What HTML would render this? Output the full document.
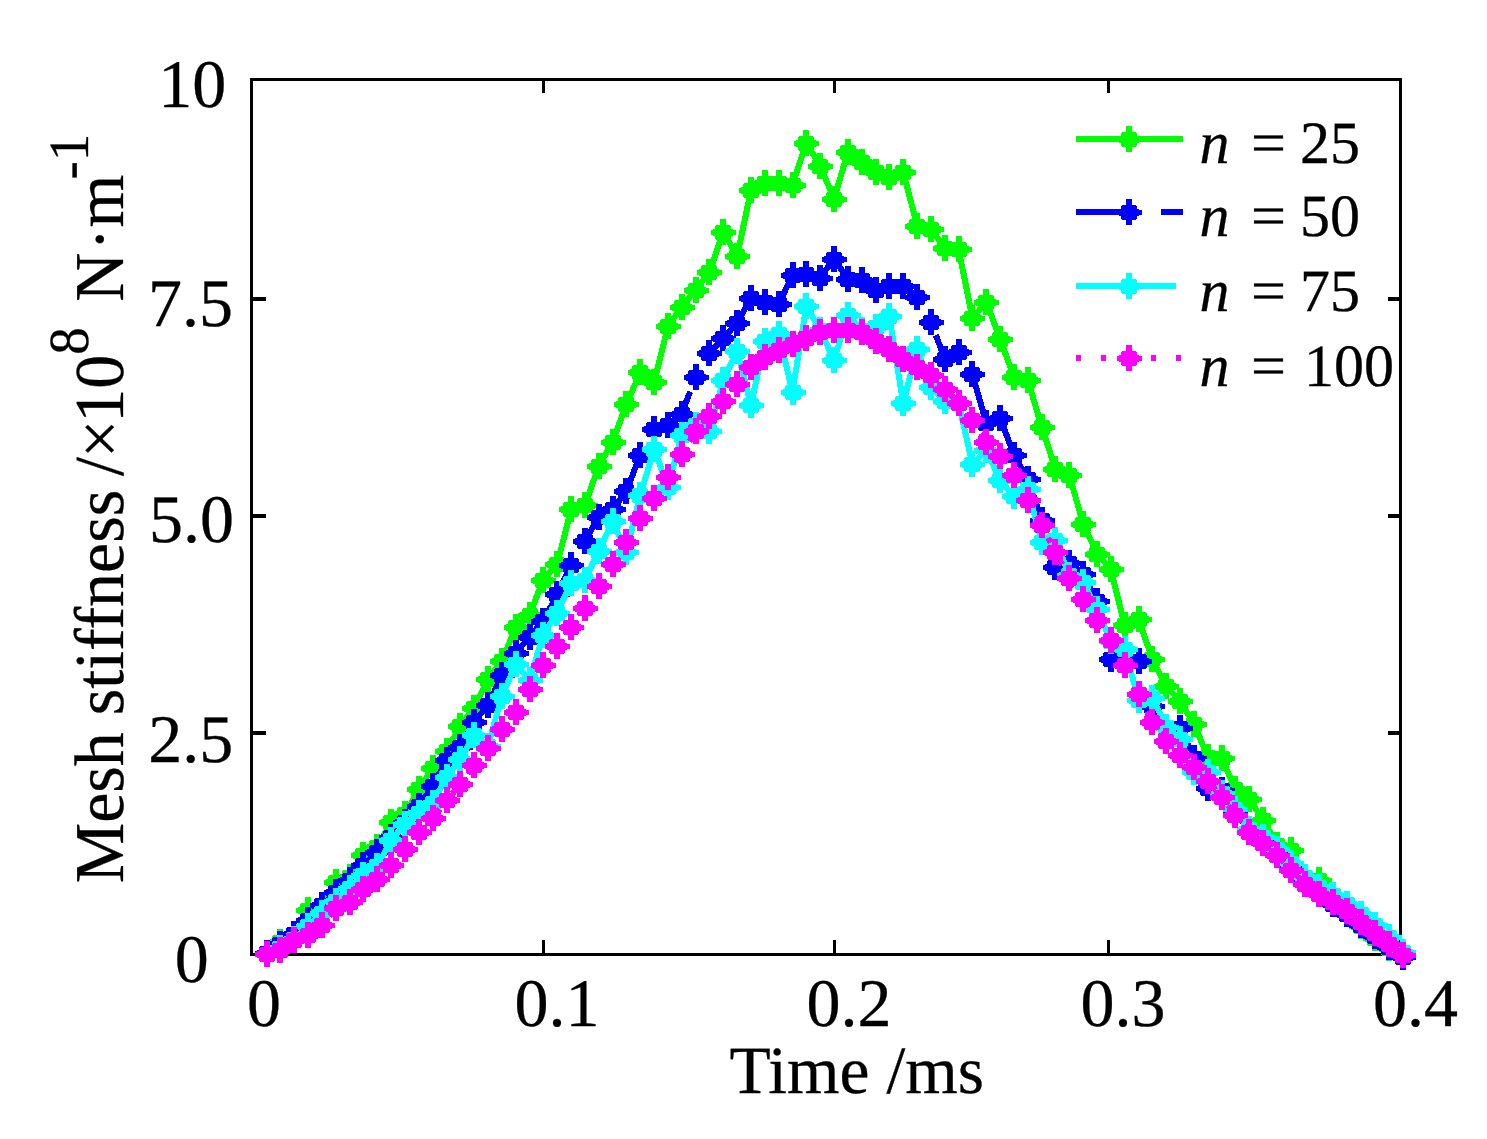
<!DOCTYPE html>
<html lang="en"><head><meta charset="utf-8"><title>Mesh stiffness</title>
<style>html,body{margin:0;padding:0;background:#fff}body{width:1487px;height:1139px;overflow:hidden}</style></head>
<body>
<svg width="1487" height="1139" viewBox="0 0 1487 1139" style="display:block">
<rect width="1487" height="1139" fill="#fff"/>
<g shape-rendering="crispEdges" fill="#000">
<path d="M250 78h1152v878h-1152z M253 81v872h1146v-872z" fill-rule="evenodd"/>
<rect x="542" y="81" width="3" height="12"/>
<rect x="542" y="940" width="3" height="13"/>
<rect x="833" y="81" width="3" height="12"/>
<rect x="833" y="940" width="3" height="13"/>
<rect x="1107" y="81" width="3" height="12"/>
<rect x="1107" y="940" width="3" height="13"/>
<rect x="253" y="297" width="13" height="4"/>
<rect x="1388" y="297" width="11" height="4"/>
<rect x="253" y="514" width="13" height="4"/>
<rect x="1388" y="514" width="11" height="4"/>
<rect x="253" y="731" width="13" height="4"/>
<rect x="1388" y="731" width="11" height="4"/>
</g>
<g shape-rendering="crispEdges">
<polyline points="266.6,954.0 280.4,941.5 294.3,937.0 308.1,910.0 322.0,907.0 335.8,882.0 349.6,877.0 363.5,855.0 377.3,847.0 391.2,822.0 405.0,814.5 418.8,789.4 432.7,768.0 446.5,751.0 460.4,725.6 474.2,707.5 488.0,679.2 501.9,661.0 515.7,626.8 529.6,614.6 543.4,579.5 557.2,564.0 571.1,509.3 584.9,505.3 598.8,465.9 612.6,441.7 626.4,404.4 640.3,372.1 654.1,382.3 668.0,326.0 681.8,307.0 695.6,289.6 709.5,272.2 723.3,231.8 737.2,256.0 751.0,190.0 764.8,183.4 778.7,183.4 792.5,184.7 806.4,143.0 820.2,166.0 834.0,199.0 847.9,152.0 861.7,162.0 875.6,172.0 889.4,177.0 903.2,172.0 917.1,225.5 930.9,229.0 944.8,248.0 958.6,249.3 972.4,318.0 986.3,301.7 1000.1,339.2 1014.0,377.2 1027.8,379.6 1041.6,426.8 1055.5,469.2 1069.3,475.3 1083.2,523.8 1097.0,553.5 1110.8,569.4 1124.7,624.9 1138.5,618.9 1152.4,659.2 1166.2,686.4 1180.0,700.8 1193.9,723.5 1207.7,757.0 1221.6,758.5 1235.4,788.9 1249.4,799.0 1263.4,820.5 1277.4,845.0 1291.4,850.0 1305.4,879.0 1319.4,880.0 1333.4,900.0 1347.5,903.9 1361.5,926.0 1375.5,938.0 1389.5,948.5 1403.5,956.5" fill="none" stroke="#00ff00" stroke-width="6" stroke-linejoin="round"/>
<path d="M264 941h6v26h-6zM255 952h25v5h-25zM257 951h20v7h-20zM259 948h16v13h-16zM260 947h14v15h-14zM277 929h6v26h-6zM268 940h25v5h-25zM270 939h20v7h-20zM272 936h16v13h-16zM273 935h14v15h-14zM291 924h6v26h-6zM282 935h25v5h-25zM284 934h20v7h-20zM286 931h16v13h-16zM287 930h14v15h-14zM305 897h6v26h-6zM296 908h25v5h-25zM298 907h20v7h-20zM300 904h16v13h-16zM301 903h14v15h-14zM319 894h6v26h-6zM310 905h25v5h-25zM312 904h20v7h-20zM314 901h16v13h-16zM315 900h14v15h-14zM333 869h6v26h-6zM324 880h25v5h-25zM326 879h20v7h-20zM328 876h16v13h-16zM329 875h14v15h-14zM347 864h6v26h-6zM338 875h25v5h-25zM340 874h20v7h-20zM342 871h16v13h-16zM343 870h14v15h-14zM360 842h6v26h-6zM351 853h25v5h-25zM353 852h20v7h-20zM355 849h16v13h-16zM356 848h14v15h-14zM374 834h6v26h-6zM365 845h25v5h-25zM367 844h20v7h-20zM369 841h16v13h-16zM370 840h14v15h-14zM388 809h6v26h-6zM379 820h25v5h-25zM381 819h20v7h-20zM383 816h16v13h-16zM384 815h14v15h-14zM402 801h6v26h-6zM393 812h25v5h-25zM395 811h20v7h-20zM397 808h16v13h-16zM398 807h14v15h-14zM416 776h6v26h-6zM407 787h25v5h-25zM409 786h20v7h-20zM411 783h16v13h-16zM412 782h14v15h-14zM430 755h6v26h-6zM421 766h25v5h-25zM423 765h20v7h-20zM425 762h16v13h-16zM426 761h14v15h-14zM444 738h6v26h-6zM435 749h25v5h-25zM437 748h20v7h-20zM439 745h16v13h-16zM440 744h14v15h-14zM457 713h6v26h-6zM448 724h25v5h-25zM450 723h20v7h-20zM452 720h16v13h-16zM453 719h14v15h-14zM471 695h6v26h-6zM462 706h25v5h-25zM464 705h20v7h-20zM466 702h16v13h-16zM467 701h14v15h-14zM485 666h6v26h-6zM476 677h25v5h-25zM478 676h20v7h-20zM480 673h16v13h-16zM481 672h14v15h-14zM499 648h6v26h-6zM490 659h25v5h-25zM492 658h20v7h-20zM494 655h16v13h-16zM495 654h14v15h-14zM513 614h6v26h-6zM504 625h25v5h-25zM506 624h20v7h-20zM508 621h16v13h-16zM509 620h14v15h-14zM527 602h6v26h-6zM518 613h25v5h-25zM520 612h20v7h-20zM522 609h16v13h-16zM523 608h14v15h-14zM540 567h6v26h-6zM531 578h25v5h-25zM533 577h20v7h-20zM535 574h16v13h-16zM536 573h14v15h-14zM554 551h6v26h-6zM545 562h25v5h-25zM547 561h20v7h-20zM549 558h16v13h-16zM550 557h14v15h-14zM568 496h6v26h-6zM559 507h25v5h-25zM561 506h20v7h-20zM563 503h16v13h-16zM564 502h14v15h-14zM582 492h6v26h-6zM573 503h25v5h-25zM575 502h20v7h-20zM577 499h16v13h-16zM578 498h14v15h-14zM596 453h6v26h-6zM587 464h25v5h-25zM589 463h20v7h-20zM591 460h16v13h-16zM592 459h14v15h-14zM610 429h6v26h-6zM601 440h25v5h-25zM603 439h20v7h-20zM605 436h16v13h-16zM606 435h14v15h-14zM623 391h6v26h-6zM614 402h25v5h-25zM616 401h20v7h-20zM618 398h16v13h-16zM619 397h14v15h-14zM637 359h6v26h-6zM628 370h25v5h-25zM630 369h20v7h-20zM632 366h16v13h-16zM633 365h14v15h-14zM651 369h6v26h-6zM642 380h25v5h-25zM644 379h20v7h-20zM646 376h16v13h-16zM647 375h14v15h-14zM665 313h6v26h-6zM656 324h25v5h-25zM658 323h20v7h-20zM660 320h16v13h-16zM661 319h14v15h-14zM679 294h6v26h-6zM670 305h25v5h-25zM672 304h20v7h-20zM674 301h16v13h-16zM675 300h14v15h-14zM693 277h6v26h-6zM684 288h25v5h-25zM686 287h20v7h-20zM688 284h16v13h-16zM689 283h14v15h-14zM706 259h6v26h-6zM697 270h25v5h-25zM699 269h20v7h-20zM701 266h16v13h-16zM702 265h14v15h-14zM720 219h6v26h-6zM711 230h25v5h-25zM713 229h20v7h-20zM715 226h16v13h-16zM716 225h14v15h-14zM734 243h6v26h-6zM725 254h25v5h-25zM727 253h20v7h-20zM729 250h16v13h-16zM730 249h14v15h-14zM748 177h6v26h-6zM739 188h25v5h-25zM741 187h20v7h-20zM743 184h16v13h-16zM744 183h14v15h-14zM762 170h6v26h-6zM753 181h25v5h-25zM755 180h20v7h-20zM757 177h16v13h-16zM758 176h14v15h-14zM776 170h6v26h-6zM767 181h25v5h-25zM769 180h20v7h-20zM771 177h16v13h-16zM772 176h14v15h-14zM790 172h6v26h-6zM781 183h25v5h-25zM783 182h20v7h-20zM785 179h16v13h-16zM786 178h14v15h-14zM803 130h6v26h-6zM794 141h25v5h-25zM796 140h20v7h-20zM798 137h16v13h-16zM799 136h14v15h-14zM817 153h6v26h-6zM808 164h25v5h-25zM810 163h20v7h-20zM812 160h16v13h-16zM813 159h14v15h-14zM831 186h6v26h-6zM822 197h25v5h-25zM824 196h20v7h-20zM826 193h16v13h-16zM827 192h14v15h-14zM845 139h6v26h-6zM836 150h25v5h-25zM838 149h20v7h-20zM840 146h16v13h-16zM841 145h14v15h-14zM859 149h6v26h-6zM850 160h25v5h-25zM852 159h20v7h-20zM854 156h16v13h-16zM855 155h14v15h-14zM873 159h6v26h-6zM864 170h25v5h-25zM866 169h20v7h-20zM868 166h16v13h-16zM869 165h14v15h-14zM886 164h6v26h-6zM877 175h25v5h-25zM879 174h20v7h-20zM881 171h16v13h-16zM882 170h14v15h-14zM900 159h6v26h-6zM891 170h25v5h-25zM893 169h20v7h-20zM895 166h16v13h-16zM896 165h14v15h-14zM914 213h6v26h-6zM905 224h25v5h-25zM907 223h20v7h-20zM909 220h16v13h-16zM910 219h14v15h-14zM928 216h6v26h-6zM919 227h25v5h-25zM921 226h20v7h-20zM923 223h16v13h-16zM924 222h14v15h-14zM942 235h6v26h-6zM933 246h25v5h-25zM935 245h20v7h-20zM937 242h16v13h-16zM938 241h14v15h-14zM956 236h6v26h-6zM947 247h25v5h-25zM949 246h20v7h-20zM951 243h16v13h-16zM952 242h14v15h-14zM969 305h6v26h-6zM960 316h25v5h-25zM962 315h20v7h-20zM964 312h16v13h-16zM965 311h14v15h-14zM983 289h6v26h-6zM974 300h25v5h-25zM976 299h20v7h-20zM978 296h16v13h-16zM979 295h14v15h-14zM997 326h6v26h-6zM988 337h25v5h-25zM990 336h20v7h-20zM992 333h16v13h-16zM993 332h14v15h-14zM1011 364h6v26h-6zM1002 375h25v5h-25zM1004 374h20v7h-20zM1006 371h16v13h-16zM1007 370h14v15h-14zM1025 367h6v26h-6zM1016 378h25v5h-25zM1018 377h20v7h-20zM1020 374h16v13h-16zM1021 373h14v15h-14zM1039 414h6v26h-6zM1030 425h25v5h-25zM1032 424h20v7h-20zM1034 421h16v13h-16zM1035 420h14v15h-14zM1052 456h6v26h-6zM1043 467h25v5h-25zM1045 466h20v7h-20zM1047 463h16v13h-16zM1048 462h14v15h-14zM1066 462h6v26h-6zM1057 473h25v5h-25zM1059 472h20v7h-20zM1061 469h16v13h-16zM1062 468h14v15h-14zM1080 511h6v26h-6zM1071 522h25v5h-25zM1073 521h20v7h-20zM1075 518h16v13h-16zM1076 517h14v15h-14zM1094 541h6v26h-6zM1085 552h25v5h-25zM1087 551h20v7h-20zM1089 548h16v13h-16zM1090 547h14v15h-14zM1108 556h6v26h-6zM1099 567h25v5h-25zM1101 566h20v7h-20zM1103 563h16v13h-16zM1104 562h14v15h-14zM1122 612h6v26h-6zM1113 623h25v5h-25zM1115 622h20v7h-20zM1117 619h16v13h-16zM1118 618h14v15h-14zM1136 606h6v26h-6zM1127 617h25v5h-25zM1129 616h20v7h-20zM1131 613h16v13h-16zM1132 612h14v15h-14zM1149 646h6v26h-6zM1140 657h25v5h-25zM1142 656h20v7h-20zM1144 653h16v13h-16zM1145 652h14v15h-14zM1163 673h6v26h-6zM1154 684h25v5h-25zM1156 683h20v7h-20zM1158 680h16v13h-16zM1159 679h14v15h-14zM1177 688h6v26h-6zM1168 699h25v5h-25zM1170 698h20v7h-20zM1172 695h16v13h-16zM1173 694h14v15h-14zM1191 711h6v26h-6zM1182 722h25v5h-25zM1184 721h20v7h-20zM1186 718h16v13h-16zM1187 717h14v15h-14zM1205 744h6v26h-6zM1196 755h25v5h-25zM1198 754h20v7h-20zM1200 751h16v13h-16zM1201 750h14v15h-14zM1219 745h6v26h-6zM1210 756h25v5h-25zM1212 755h20v7h-20zM1214 752h16v13h-16zM1215 751h14v15h-14zM1232 776h6v26h-6zM1223 787h25v5h-25zM1225 786h20v7h-20zM1227 783h16v13h-16zM1228 782h14v15h-14zM1246 786h6v26h-6zM1237 797h25v5h-25zM1239 796h20v7h-20zM1241 793h16v13h-16zM1242 792h14v15h-14zM1260 807h6v26h-6zM1251 818h25v5h-25zM1253 817h20v7h-20zM1255 814h16v13h-16zM1256 813h14v15h-14zM1274 832h6v26h-6zM1265 843h25v5h-25zM1267 842h20v7h-20zM1269 839h16v13h-16zM1270 838h14v15h-14zM1288 837h6v26h-6zM1279 848h25v5h-25zM1281 847h20v7h-20zM1283 844h16v13h-16zM1284 843h14v15h-14zM1302 866h6v26h-6zM1293 877h25v5h-25zM1295 876h20v7h-20zM1297 873h16v13h-16zM1298 872h14v15h-14zM1316 867h6v26h-6zM1307 878h25v5h-25zM1309 877h20v7h-20zM1311 874h16v13h-16zM1312 873h14v15h-14zM1330 887h6v26h-6zM1321 898h25v5h-25zM1323 897h20v7h-20zM1325 894h16v13h-16zM1326 893h14v15h-14zM1344 891h6v26h-6zM1335 902h25v5h-25zM1337 901h20v7h-20zM1339 898h16v13h-16zM1340 897h14v15h-14zM1358 913h6v26h-6zM1349 924h25v5h-25zM1351 923h20v7h-20zM1353 920h16v13h-16zM1354 919h14v15h-14zM1372 925h6v26h-6zM1363 936h25v5h-25zM1365 935h20v7h-20zM1367 932h16v13h-16zM1368 931h14v15h-14zM1386 935h6v26h-6zM1377 946h25v5h-25zM1379 945h20v7h-20zM1381 942h16v13h-16zM1382 941h14v15h-14zM1400 943h6v26h-6zM1391 954h25v5h-25zM1393 953h20v7h-20zM1395 950h16v13h-16zM1396 949h14v15h-14z" fill="#00ff00"/>
<path d="M266.6 953.0L280.4 944.0M280.4 944.0L294.3 934.0M294.3 934.0L308.1 920.0M308.1 920.0L322.0 905.0M322.0 905.0L335.8 892.0M335.8 892.0L349.6 880.5M349.6 880.5L363.5 865.0M363.5 865.0L377.3 852.5M377.3 852.5L391.2 837.0M391.2 837.0L405.0 822.0M405.0 822.0L418.8 806.0M418.8 806.0L432.7 786.0M432.7 786.0L446.5 760.2M446.5 760.2L460.4 747.0M460.4 747.0L474.2 721.6M474.2 721.6L488.0 705.4M488.0 705.4L501.9 675.2M501.9 675.2L515.7 653.0M515.7 653.0L529.6 636.8M529.6 636.8L543.4 620.7M543.4 620.7L557.2 594.5M557.2 594.5L571.1 565.0M584.9 540.8L598.8 517.4M598.8 517.4L612.6 509.3M612.6 509.3L626.4 491.1M626.4 491.1L640.3 454.8M654.1 428.6L668.0 424.6M668.0 424.6L681.8 413.5M681.8 413.5L690.1 391.6M709.5 352.8L723.3 338.5M723.3 338.5L737.2 322.8M737.2 322.8L751.0 298.0M751.0 298.0L764.8 302.0M764.8 302.0L778.7 304.3M778.7 304.3L792.5 274.8M792.5 274.8L806.4 273.5M806.4 273.5L820.2 277.5M820.2 277.5L834.0 258.7M834.0 258.7L847.9 278.9M847.9 278.9L861.7 280.2M861.7 280.2L875.6 289.6M875.6 289.6L889.4 285.6M889.4 285.6L903.2 285.6M903.2 285.6L917.1 297.0M935.8 335.1L944.8 358.8M944.8 358.8L958.6 351.5M972.4 374.5L986.3 422.8M986.3 422.8L1000.1 417.8M1000.1 417.8L1014.0 455.0M1014.0 455.0L1027.8 479.3M1027.8 479.3L1041.6 519.6M1047.2 538.7L1055.5 567.4M1055.5 567.4L1069.3 563.4M1069.3 563.4L1083.2 574.5M1083.2 574.5L1097.0 600.7M1097.0 600.7L1101.2 618.2M1110.8 659.2L1124.7 664.0M1124.7 664.0L1138.5 661.0M1152.4 705.6L1166.2 727.0M1166.2 727.0L1180.0 727.5M1180.0 727.5L1193.9 758.0M1193.9 758.0L1207.7 788.5M1207.7 788.5L1221.6 790.0M1221.6 790.0L1235.4 813.0M1235.4 813.0L1249.4 830.0M1249.4 830.0L1263.4 841.0M1263.4 841.0L1277.4 853.0M1277.4 853.0L1291.4 867.5M1291.4 867.5L1305.4 881.5M1305.4 881.5L1319.4 892.0M1319.4 892.0L1333.4 904.0M1333.4 904.0L1347.5 914.0M1347.5 914.0L1361.5 925.0M1361.5 925.0L1375.5 936.0M1375.5 936.0L1389.5 947.0M1389.5 947.0L1403.5 957.0" fill="none" stroke="#0000ff" stroke-width="6"/>
<path d="M264 940h6v26h-6zM255 951h25v5h-25zM257 950h20v7h-20zM259 947h16v13h-16zM260 946h14v15h-14zM277 931h6v26h-6zM268 942h25v5h-25zM270 941h20v7h-20zM272 938h16v13h-16zM273 937h14v15h-14zM291 921h6v26h-6zM282 932h25v5h-25zM284 931h20v7h-20zM286 928h16v13h-16zM287 927h14v15h-14zM305 907h6v26h-6zM296 918h25v5h-25zM298 917h20v7h-20zM300 914h16v13h-16zM301 913h14v15h-14zM319 892h6v26h-6zM310 903h25v5h-25zM312 902h20v7h-20zM314 899h16v13h-16zM315 898h14v15h-14zM333 879h6v26h-6zM324 890h25v5h-25zM326 889h20v7h-20zM328 886h16v13h-16zM329 885h14v15h-14zM347 867h6v26h-6zM338 878h25v5h-25zM340 877h20v7h-20zM342 874h16v13h-16zM343 873h14v15h-14zM360 852h6v26h-6zM351 863h25v5h-25zM353 862h20v7h-20zM355 859h16v13h-16zM356 858h14v15h-14zM374 839h6v26h-6zM365 850h25v5h-25zM367 849h20v7h-20zM369 846h16v13h-16zM370 845h14v15h-14zM388 824h6v26h-6zM379 835h25v5h-25zM381 834h20v7h-20zM383 831h16v13h-16zM384 830h14v15h-14zM402 809h6v26h-6zM393 820h25v5h-25zM395 819h20v7h-20zM397 816h16v13h-16zM398 815h14v15h-14zM416 793h6v26h-6zM407 804h25v5h-25zM409 803h20v7h-20zM411 800h16v13h-16zM412 799h14v15h-14zM430 773h6v26h-6zM421 784h25v5h-25zM423 783h20v7h-20zM425 780h16v13h-16zM426 779h14v15h-14zM444 747h6v26h-6zM435 758h25v5h-25zM437 757h20v7h-20zM439 754h16v13h-16zM440 753h14v15h-14zM457 734h6v26h-6zM448 745h25v5h-25zM450 744h20v7h-20zM452 741h16v13h-16zM453 740h14v15h-14zM471 709h6v26h-6zM462 720h25v5h-25zM464 719h20v7h-20zM466 716h16v13h-16zM467 715h14v15h-14zM485 692h6v26h-6zM476 703h25v5h-25zM478 702h20v7h-20zM480 699h16v13h-16zM481 698h14v15h-14zM499 662h6v26h-6zM490 673h25v5h-25zM492 672h20v7h-20zM494 669h16v13h-16zM495 668h14v15h-14zM513 640h6v26h-6zM504 651h25v5h-25zM506 650h20v7h-20zM508 647h16v13h-16zM509 646h14v15h-14zM527 624h6v26h-6zM518 635h25v5h-25zM520 634h20v7h-20zM522 631h16v13h-16zM523 630h14v15h-14zM540 608h6v26h-6zM531 619h25v5h-25zM533 618h20v7h-20zM535 615h16v13h-16zM536 614h14v15h-14zM554 581h6v26h-6zM545 592h25v5h-25zM547 591h20v7h-20zM549 588h16v13h-16zM550 587h14v15h-14zM568 552h6v26h-6zM559 563h25v5h-25zM561 562h20v7h-20zM563 559h16v13h-16zM564 558h14v15h-14zM582 528h6v26h-6zM573 539h25v5h-25zM575 538h20v7h-20zM577 535h16v13h-16zM578 534h14v15h-14zM596 504h6v26h-6zM587 515h25v5h-25zM589 514h20v7h-20zM591 511h16v13h-16zM592 510h14v15h-14zM610 496h6v26h-6zM601 507h25v5h-25zM603 506h20v7h-20zM605 503h16v13h-16zM606 502h14v15h-14zM623 478h6v26h-6zM614 489h25v5h-25zM616 488h20v7h-20zM618 485h16v13h-16zM619 484h14v15h-14zM637 442h6v26h-6zM628 453h25v5h-25zM630 452h20v7h-20zM632 449h16v13h-16zM633 448h14v15h-14zM651 416h6v26h-6zM642 427h25v5h-25zM644 426h20v7h-20zM646 423h16v13h-16zM647 422h14v15h-14zM665 412h6v26h-6zM656 423h25v5h-25zM658 422h20v7h-20zM660 419h16v13h-16zM661 418h14v15h-14zM679 401h6v26h-6zM670 412h25v5h-25zM672 411h20v7h-20zM674 408h16v13h-16zM675 407h14v15h-14zM693 364h6v26h-6zM684 375h25v5h-25zM686 374h20v7h-20zM688 371h16v13h-16zM689 370h14v15h-14zM706 340h6v26h-6zM697 351h25v5h-25zM699 350h20v7h-20zM701 347h16v13h-16zM702 346h14v15h-14zM720 325h6v26h-6zM711 336h25v5h-25zM713 335h20v7h-20zM715 332h16v13h-16zM716 331h14v15h-14zM734 310h6v26h-6zM725 321h25v5h-25zM727 320h20v7h-20zM729 317h16v13h-16zM730 316h14v15h-14zM748 285h6v26h-6zM739 296h25v5h-25zM741 295h20v7h-20zM743 292h16v13h-16zM744 291h14v15h-14zM762 289h6v26h-6zM753 300h25v5h-25zM755 299h20v7h-20zM757 296h16v13h-16zM758 295h14v15h-14zM776 291h6v26h-6zM767 302h25v5h-25zM769 301h20v7h-20zM771 298h16v13h-16zM772 297h14v15h-14zM790 262h6v26h-6zM781 273h25v5h-25zM783 272h20v7h-20zM785 269h16v13h-16zM786 268h14v15h-14zM803 261h6v26h-6zM794 272h25v5h-25zM796 271h20v7h-20zM798 268h16v13h-16zM799 267h14v15h-14zM817 265h6v26h-6zM808 276h25v5h-25zM810 275h20v7h-20zM812 272h16v13h-16zM813 271h14v15h-14zM831 246h6v26h-6zM822 257h25v5h-25zM824 256h20v7h-20zM826 253h16v13h-16zM827 252h14v15h-14zM845 266h6v26h-6zM836 277h25v5h-25zM838 276h20v7h-20zM840 273h16v13h-16zM841 272h14v15h-14zM859 267h6v26h-6zM850 278h25v5h-25zM852 277h20v7h-20zM854 274h16v13h-16zM855 273h14v15h-14zM873 277h6v26h-6zM864 288h25v5h-25zM866 287h20v7h-20zM868 284h16v13h-16zM869 283h14v15h-14zM886 273h6v26h-6zM877 284h25v5h-25zM879 283h20v7h-20zM881 280h16v13h-16zM882 279h14v15h-14zM900 273h6v26h-6zM891 284h25v5h-25zM893 283h20v7h-20zM895 280h16v13h-16zM896 279h14v15h-14zM914 284h6v26h-6zM905 295h25v5h-25zM907 294h20v7h-20zM909 291h16v13h-16zM910 290h14v15h-14zM928 309h6v26h-6zM919 320h25v5h-25zM921 319h20v7h-20zM923 316h16v13h-16zM924 315h14v15h-14zM942 346h6v26h-6zM933 357h25v5h-25zM935 356h20v7h-20zM937 353h16v13h-16zM938 352h14v15h-14zM956 339h6v26h-6zM947 350h25v5h-25zM949 349h20v7h-20zM951 346h16v13h-16zM952 345h14v15h-14zM969 361h6v26h-6zM960 372h25v5h-25zM962 371h20v7h-20zM964 368h16v13h-16zM965 367h14v15h-14zM983 410h6v26h-6zM974 421h25v5h-25zM976 420h20v7h-20zM978 417h16v13h-16zM979 416h14v15h-14zM997 405h6v26h-6zM988 416h25v5h-25zM990 415h20v7h-20zM992 412h16v13h-16zM993 411h14v15h-14zM1011 442h6v26h-6zM1002 453h25v5h-25zM1004 452h20v7h-20zM1006 449h16v13h-16zM1007 448h14v15h-14zM1025 466h6v26h-6zM1016 477h25v5h-25zM1018 476h20v7h-20zM1020 473h16v13h-16zM1021 472h14v15h-14zM1039 507h6v26h-6zM1030 518h25v5h-25zM1032 517h20v7h-20zM1034 514h16v13h-16zM1035 513h14v15h-14zM1052 554h6v26h-6zM1043 565h25v5h-25zM1045 564h20v7h-20zM1047 561h16v13h-16zM1048 560h14v15h-14zM1066 550h6v26h-6zM1057 561h25v5h-25zM1059 560h20v7h-20zM1061 557h16v13h-16zM1062 556h14v15h-14zM1080 561h6v26h-6zM1071 572h25v5h-25zM1073 571h20v7h-20zM1075 568h16v13h-16zM1076 567h14v15h-14zM1094 588h6v26h-6zM1085 599h25v5h-25zM1087 598h20v7h-20zM1089 595h16v13h-16zM1090 594h14v15h-14zM1108 646h6v26h-6zM1099 657h25v5h-25zM1101 656h20v7h-20zM1103 653h16v13h-16zM1104 652h14v15h-14zM1122 651h6v26h-6zM1113 662h25v5h-25zM1115 661h20v7h-20zM1117 658h16v13h-16zM1118 657h14v15h-14zM1136 648h6v26h-6zM1127 659h25v5h-25zM1129 658h20v7h-20zM1131 655h16v13h-16zM1132 654h14v15h-14zM1149 693h6v26h-6zM1140 704h25v5h-25zM1142 703h20v7h-20zM1144 700h16v13h-16zM1145 699h14v15h-14zM1163 714h6v26h-6zM1154 725h25v5h-25zM1156 724h20v7h-20zM1158 721h16v13h-16zM1159 720h14v15h-14zM1177 715h6v26h-6zM1168 726h25v5h-25zM1170 725h20v7h-20zM1172 722h16v13h-16zM1173 721h14v15h-14zM1191 745h6v26h-6zM1182 756h25v5h-25zM1184 755h20v7h-20zM1186 752h16v13h-16zM1187 751h14v15h-14zM1205 775h6v26h-6zM1196 786h25v5h-25zM1198 785h20v7h-20zM1200 782h16v13h-16zM1201 781h14v15h-14zM1219 777h6v26h-6zM1210 788h25v5h-25zM1212 787h20v7h-20zM1214 784h16v13h-16zM1215 783h14v15h-14zM1232 800h6v26h-6zM1223 811h25v5h-25zM1225 810h20v7h-20zM1227 807h16v13h-16zM1228 806h14v15h-14zM1246 817h6v26h-6zM1237 828h25v5h-25zM1239 827h20v7h-20zM1241 824h16v13h-16zM1242 823h14v15h-14zM1260 828h6v26h-6zM1251 839h25v5h-25zM1253 838h20v7h-20zM1255 835h16v13h-16zM1256 834h14v15h-14zM1274 840h6v26h-6zM1265 851h25v5h-25zM1267 850h20v7h-20zM1269 847h16v13h-16zM1270 846h14v15h-14zM1288 855h6v26h-6zM1279 866h25v5h-25zM1281 865h20v7h-20zM1283 862h16v13h-16zM1284 861h14v15h-14zM1302 869h6v26h-6zM1293 880h25v5h-25zM1295 879h20v7h-20zM1297 876h16v13h-16zM1298 875h14v15h-14zM1316 879h6v26h-6zM1307 890h25v5h-25zM1309 889h20v7h-20zM1311 886h16v13h-16zM1312 885h14v15h-14zM1330 891h6v26h-6zM1321 902h25v5h-25zM1323 901h20v7h-20zM1325 898h16v13h-16zM1326 897h14v15h-14zM1344 901h6v26h-6zM1335 912h25v5h-25zM1337 911h20v7h-20zM1339 908h16v13h-16zM1340 907h14v15h-14zM1358 912h6v26h-6zM1349 923h25v5h-25zM1351 922h20v7h-20zM1353 919h16v13h-16zM1354 918h14v15h-14zM1372 923h6v26h-6zM1363 934h25v5h-25zM1365 933h20v7h-20zM1367 930h16v13h-16zM1368 929h14v15h-14zM1386 934h6v26h-6zM1377 945h25v5h-25zM1379 944h20v7h-20zM1381 941h16v13h-16zM1382 940h14v15h-14zM1400 944h6v26h-6zM1391 955h25v5h-25zM1393 954h20v7h-20zM1395 951h16v13h-16zM1396 950h14v15h-14z" fill="#0000ff"/>
<polyline points="266.6,954.0 280.4,948.0 294.3,939.0 308.1,926.5 322.0,913.0 335.8,901.0 349.6,887.5 363.5,875.0 377.3,866.0 391.2,840.0 405.0,824.0 418.8,813.0 432.7,803.0 446.5,777.0 460.4,759.4 474.2,735.0 488.0,746.0 501.9,696.0 515.7,664.5 529.6,679.5 543.4,634.8 557.2,612.6 571.1,583.0 584.9,580.0 598.8,551.0 612.6,521.4 626.4,551.7 640.3,495.2 654.1,448.8 668.0,487.1 681.8,434.6 695.6,425.0 709.5,431.0 723.3,380.0 737.2,351.0 751.0,405.0 764.8,341.0 778.7,334.5 792.5,391.5 806.4,306.0 820.2,330.0 834.0,359.7 847.9,314.8 861.7,330.0 875.6,327.3 889.4,316.5 903.2,403.2 917.1,349.3 930.9,387.0 944.8,400.8 958.6,403.0 972.4,464.0 986.3,450.0 1000.1,480.3 1014.0,496.4 1027.8,489.4 1041.6,542.0 1055.5,540.0 1069.3,575.0 1083.2,582.5 1097.0,608.8 1110.8,641.0 1124.7,649.0 1138.5,699.6 1152.4,697.5 1166.2,727.0 1180.0,739.0 1193.9,772.0 1207.7,772.0 1221.6,793.0 1235.4,809.0 1249.4,829.0 1263.4,837.0 1277.4,849.0 1291.4,863.0 1305.4,877.0 1319.4,887.0 1333.4,895.0 1347.5,904.0 1361.5,914.0 1375.5,925.0 1389.5,937.0 1403.5,952.0" fill="none" stroke="#00ffff" stroke-width="6" stroke-linejoin="round"/>
<path d="M264 941h6v26h-6zM255 952h25v5h-25zM257 951h20v7h-20zM259 948h16v13h-16zM260 947h14v15h-14zM277 935h6v26h-6zM268 946h25v5h-25zM270 945h20v7h-20zM272 942h16v13h-16zM273 941h14v15h-14zM291 926h6v26h-6zM282 937h25v5h-25zM284 936h20v7h-20zM286 933h16v13h-16zM287 932h14v15h-14zM305 913h6v26h-6zM296 924h25v5h-25zM298 923h20v7h-20zM300 920h16v13h-16zM301 919h14v15h-14zM319 900h6v26h-6zM310 911h25v5h-25zM312 910h20v7h-20zM314 907h16v13h-16zM315 906h14v15h-14zM333 888h6v26h-6zM324 899h25v5h-25zM326 898h20v7h-20zM328 895h16v13h-16zM329 894h14v15h-14zM347 875h6v26h-6zM338 886h25v5h-25zM340 885h20v7h-20zM342 882h16v13h-16zM343 881h14v15h-14zM360 862h6v26h-6zM351 873h25v5h-25zM353 872h20v7h-20zM355 869h16v13h-16zM356 868h14v15h-14zM374 853h6v26h-6zM365 864h25v5h-25zM367 863h20v7h-20zM369 860h16v13h-16zM370 859h14v15h-14zM388 827h6v26h-6zM379 838h25v5h-25zM381 837h20v7h-20zM383 834h16v13h-16zM384 833h14v15h-14zM402 811h6v26h-6zM393 822h25v5h-25zM395 821h20v7h-20zM397 818h16v13h-16zM398 817h14v15h-14zM416 800h6v26h-6zM407 811h25v5h-25zM409 810h20v7h-20zM411 807h16v13h-16zM412 806h14v15h-14zM430 790h6v26h-6zM421 801h25v5h-25zM423 800h20v7h-20zM425 797h16v13h-16zM426 796h14v15h-14zM444 764h6v26h-6zM435 775h25v5h-25zM437 774h20v7h-20zM439 771h16v13h-16zM440 770h14v15h-14zM457 746h6v26h-6zM448 757h25v5h-25zM450 756h20v7h-20zM452 753h16v13h-16zM453 752h14v15h-14zM471 722h6v26h-6zM462 733h25v5h-25zM464 732h20v7h-20zM466 729h16v13h-16zM467 728h14v15h-14zM485 733h6v26h-6zM476 744h25v5h-25zM478 743h20v7h-20zM480 740h16v13h-16zM481 739h14v15h-14zM499 683h6v26h-6zM490 694h25v5h-25zM492 693h20v7h-20zM494 690h16v13h-16zM495 689h14v15h-14zM513 651h6v26h-6zM504 662h25v5h-25zM506 661h20v7h-20zM508 658h16v13h-16zM509 657h14v15h-14zM527 667h6v26h-6zM518 678h25v5h-25zM520 677h20v7h-20zM522 674h16v13h-16zM523 673h14v15h-14zM540 622h6v26h-6zM531 633h25v5h-25zM533 632h20v7h-20zM535 629h16v13h-16zM536 628h14v15h-14zM554 600h6v26h-6zM545 611h25v5h-25zM547 610h20v7h-20zM549 607h16v13h-16zM550 606h14v15h-14zM568 570h6v26h-6zM559 581h25v5h-25zM561 580h20v7h-20zM563 577h16v13h-16zM564 576h14v15h-14zM582 567h6v26h-6zM573 578h25v5h-25zM575 577h20v7h-20zM577 574h16v13h-16zM578 573h14v15h-14zM596 538h6v26h-6zM587 549h25v5h-25zM589 548h20v7h-20zM591 545h16v13h-16zM592 544h14v15h-14zM610 508h6v26h-6zM601 519h25v5h-25zM603 518h20v7h-20zM605 515h16v13h-16zM606 514h14v15h-14zM623 539h6v26h-6zM614 550h25v5h-25zM616 549h20v7h-20zM618 546h16v13h-16zM619 545h14v15h-14zM637 482h6v26h-6zM628 493h25v5h-25zM630 492h20v7h-20zM632 489h16v13h-16zM633 488h14v15h-14zM651 436h6v26h-6zM642 447h25v5h-25zM644 446h20v7h-20zM646 443h16v13h-16zM647 442h14v15h-14zM665 474h6v26h-6zM656 485h25v5h-25zM658 484h20v7h-20zM660 481h16v13h-16zM661 480h14v15h-14zM679 422h6v26h-6zM670 433h25v5h-25zM672 432h20v7h-20zM674 429h16v13h-16zM675 428h14v15h-14zM693 412h6v26h-6zM684 423h25v5h-25zM686 422h20v7h-20zM688 419h16v13h-16zM689 418h14v15h-14zM706 418h6v26h-6zM697 429h25v5h-25zM699 428h20v7h-20zM701 425h16v13h-16zM702 424h14v15h-14zM720 367h6v26h-6zM711 378h25v5h-25zM713 377h20v7h-20zM715 374h16v13h-16zM716 373h14v15h-14zM734 338h6v26h-6zM725 349h25v5h-25zM727 348h20v7h-20zM729 345h16v13h-16zM730 344h14v15h-14zM748 392h6v26h-6zM739 403h25v5h-25zM741 402h20v7h-20zM743 399h16v13h-16zM744 398h14v15h-14zM762 328h6v26h-6zM753 339h25v5h-25zM755 338h20v7h-20zM757 335h16v13h-16zM758 334h14v15h-14zM776 321h6v26h-6zM767 332h25v5h-25zM769 331h20v7h-20zM771 328h16v13h-16zM772 327h14v15h-14zM790 379h6v26h-6zM781 390h25v5h-25zM783 389h20v7h-20zM785 386h16v13h-16zM786 385h14v15h-14zM803 293h6v26h-6zM794 304h25v5h-25zM796 303h20v7h-20zM798 300h16v13h-16zM799 299h14v15h-14zM817 317h6v26h-6zM808 328h25v5h-25zM810 327h20v7h-20zM812 324h16v13h-16zM813 323h14v15h-14zM831 347h6v26h-6zM822 358h25v5h-25zM824 357h20v7h-20zM826 354h16v13h-16zM827 353h14v15h-14zM845 302h6v26h-6zM836 313h25v5h-25zM838 312h20v7h-20zM840 309h16v13h-16zM841 308h14v15h-14zM859 317h6v26h-6zM850 328h25v5h-25zM852 327h20v7h-20zM854 324h16v13h-16zM855 323h14v15h-14zM873 314h6v26h-6zM864 325h25v5h-25zM866 324h20v7h-20zM868 321h16v13h-16zM869 320h14v15h-14zM886 303h6v26h-6zM877 314h25v5h-25zM879 313h20v7h-20zM881 310h16v13h-16zM882 309h14v15h-14zM900 390h6v26h-6zM891 401h25v5h-25zM893 400h20v7h-20zM895 397h16v13h-16zM896 396h14v15h-14zM914 336h6v26h-6zM905 347h25v5h-25zM907 346h20v7h-20zM909 343h16v13h-16zM910 342h14v15h-14zM928 374h6v26h-6zM919 385h25v5h-25zM921 384h20v7h-20zM923 381h16v13h-16zM924 380h14v15h-14zM942 388h6v26h-6zM933 399h25v5h-25zM935 398h20v7h-20zM937 395h16v13h-16zM938 394h14v15h-14zM956 390h6v26h-6zM947 401h25v5h-25zM949 400h20v7h-20zM951 397h16v13h-16zM952 396h14v15h-14zM969 451h6v26h-6zM960 462h25v5h-25zM962 461h20v7h-20zM964 458h16v13h-16zM965 457h14v15h-14zM983 437h6v26h-6zM974 448h25v5h-25zM976 447h20v7h-20zM978 444h16v13h-16zM979 443h14v15h-14zM997 467h6v26h-6zM988 478h25v5h-25zM990 477h20v7h-20zM992 474h16v13h-16zM993 473h14v15h-14zM1011 483h6v26h-6zM1002 494h25v5h-25zM1004 493h20v7h-20zM1006 490h16v13h-16zM1007 489h14v15h-14zM1025 476h6v26h-6zM1016 487h25v5h-25zM1018 486h20v7h-20zM1020 483h16v13h-16zM1021 482h14v15h-14zM1039 529h6v26h-6zM1030 540h25v5h-25zM1032 539h20v7h-20zM1034 536h16v13h-16zM1035 535h14v15h-14zM1052 527h6v26h-6zM1043 538h25v5h-25zM1045 537h20v7h-20zM1047 534h16v13h-16zM1048 533h14v15h-14zM1066 562h6v26h-6zM1057 573h25v5h-25zM1059 572h20v7h-20zM1061 569h16v13h-16zM1062 568h14v15h-14zM1080 569h6v26h-6zM1071 580h25v5h-25zM1073 579h20v7h-20zM1075 576h16v13h-16zM1076 575h14v15h-14zM1094 596h6v26h-6zM1085 607h25v5h-25zM1087 606h20v7h-20zM1089 603h16v13h-16zM1090 602h14v15h-14zM1108 628h6v26h-6zM1099 639h25v5h-25zM1101 638h20v7h-20zM1103 635h16v13h-16zM1104 634h14v15h-14zM1122 636h6v26h-6zM1113 647h25v5h-25zM1115 646h20v7h-20zM1117 643h16v13h-16zM1118 642h14v15h-14zM1136 687h6v26h-6zM1127 698h25v5h-25zM1129 697h20v7h-20zM1131 694h16v13h-16zM1132 693h14v15h-14zM1149 685h6v26h-6zM1140 696h25v5h-25zM1142 695h20v7h-20zM1144 692h16v13h-16zM1145 691h14v15h-14zM1163 714h6v26h-6zM1154 725h25v5h-25zM1156 724h20v7h-20zM1158 721h16v13h-16zM1159 720h14v15h-14zM1177 726h6v26h-6zM1168 737h25v5h-25zM1170 736h20v7h-20zM1172 733h16v13h-16zM1173 732h14v15h-14zM1191 759h6v26h-6zM1182 770h25v5h-25zM1184 769h20v7h-20zM1186 766h16v13h-16zM1187 765h14v15h-14zM1205 759h6v26h-6zM1196 770h25v5h-25zM1198 769h20v7h-20zM1200 766h16v13h-16zM1201 765h14v15h-14zM1219 780h6v26h-6zM1210 791h25v5h-25zM1212 790h20v7h-20zM1214 787h16v13h-16zM1215 786h14v15h-14zM1232 796h6v26h-6zM1223 807h25v5h-25zM1225 806h20v7h-20zM1227 803h16v13h-16zM1228 802h14v15h-14zM1246 816h6v26h-6zM1237 827h25v5h-25zM1239 826h20v7h-20zM1241 823h16v13h-16zM1242 822h14v15h-14zM1260 824h6v26h-6zM1251 835h25v5h-25zM1253 834h20v7h-20zM1255 831h16v13h-16zM1256 830h14v15h-14zM1274 836h6v26h-6zM1265 847h25v5h-25zM1267 846h20v7h-20zM1269 843h16v13h-16zM1270 842h14v15h-14zM1288 850h6v26h-6zM1279 861h25v5h-25zM1281 860h20v7h-20zM1283 857h16v13h-16zM1284 856h14v15h-14zM1302 864h6v26h-6zM1293 875h25v5h-25zM1295 874h20v7h-20zM1297 871h16v13h-16zM1298 870h14v15h-14zM1316 874h6v26h-6zM1307 885h25v5h-25zM1309 884h20v7h-20zM1311 881h16v13h-16zM1312 880h14v15h-14zM1330 882h6v26h-6zM1321 893h25v5h-25zM1323 892h20v7h-20zM1325 889h16v13h-16zM1326 888h14v15h-14zM1344 891h6v26h-6zM1335 902h25v5h-25zM1337 901h20v7h-20zM1339 898h16v13h-16zM1340 897h14v15h-14zM1358 901h6v26h-6zM1349 912h25v5h-25zM1351 911h20v7h-20zM1353 908h16v13h-16zM1354 907h14v15h-14zM1372 912h6v26h-6zM1363 923h25v5h-25zM1365 922h20v7h-20zM1367 919h16v13h-16zM1368 918h14v15h-14zM1386 924h6v26h-6zM1377 935h25v5h-25zM1379 934h20v7h-20zM1381 931h16v13h-16zM1382 930h14v15h-14zM1400 939h6v26h-6zM1391 950h25v5h-25zM1393 949h20v7h-20zM1395 946h16v13h-16zM1396 945h14v15h-14z" fill="#00ffff"/>
<polyline points="266.6,954.5 280.4,949.8 294.3,940.5 308.1,935.0 322.0,925.2 335.8,908.5 349.6,901.7 363.5,889.3 377.3,879.2 391.2,865.0 405.0,849.0 418.8,832.0 432.7,818.0 446.5,800.5 460.4,784.4 474.2,765.0 488.0,748.0 501.9,728.6 515.7,711.5 529.6,689.3 543.4,665.1 557.2,645.9 571.1,626.8 584.9,608.0 598.8,586.0 612.6,564.5 626.4,542.0 640.3,518.4 654.1,498.2 668.0,477.0 681.8,453.8 695.6,431.0 709.5,416.0 723.3,401.0 737.2,384.0 751.0,367.0 764.8,356.8 778.7,349.7 792.5,343.6 806.4,337.6 820.2,332.5 834.0,330.5 847.9,330.0 861.7,332.5 875.6,340.6 889.4,348.7 903.2,358.8 917.1,366.8 930.9,374.7 944.8,388.8 958.6,402.8 972.4,420.5 986.3,442.0 1000.1,456.0 1014.0,475.0 1027.8,500.5 1041.6,524.8 1055.5,552.0 1069.3,577.5 1083.2,598.7 1097.0,619.9 1110.8,640.0 1124.7,665.0 1138.5,694.3 1152.4,722.0 1166.2,740.7 1180.0,754.6 1193.9,766.7 1207.7,780.8 1221.6,797.0 1235.4,815.0 1249.4,832.0 1263.4,843.3 1277.4,855.4 1291.4,869.6 1305.4,883.7 1319.4,893.8 1333.4,901.8 1347.5,911.0 1361.5,922.0 1375.5,933.0 1389.5,944.0 1403.5,954.7" fill="none" stroke="#ff00ff" stroke-width="6" stroke-linejoin="round" stroke-dasharray="5 20"/>
<path d="M264 941h6v26h-6zM255 952h25v5h-25zM257 951h20v7h-20zM259 948h16v13h-16zM260 947h14v15h-14zM277 937h6v26h-6zM268 948h25v5h-25zM270 947h20v7h-20zM272 944h16v13h-16zM273 943h14v15h-14zM291 927h6v26h-6zM282 938h25v5h-25zM284 937h20v7h-20zM286 934h16v13h-16zM287 933h14v15h-14zM305 922h6v26h-6zM296 933h25v5h-25zM298 932h20v7h-20zM300 929h16v13h-16zM301 928h14v15h-14zM319 912h6v26h-6zM310 923h25v5h-25zM312 922h20v7h-20zM314 919h16v13h-16zM315 918h14v15h-14zM333 895h6v26h-6zM324 906h25v5h-25zM326 905h20v7h-20zM328 902h16v13h-16zM329 901h14v15h-14zM347 889h6v26h-6zM338 900h25v5h-25zM340 899h20v7h-20zM342 896h16v13h-16zM343 895h14v15h-14zM360 876h6v26h-6zM351 887h25v5h-25zM353 886h20v7h-20zM355 883h16v13h-16zM356 882h14v15h-14zM374 866h6v26h-6zM365 877h25v5h-25zM367 876h20v7h-20zM369 873h16v13h-16zM370 872h14v15h-14zM388 852h6v26h-6zM379 863h25v5h-25zM381 862h20v7h-20zM383 859h16v13h-16zM384 858h14v15h-14zM402 836h6v26h-6zM393 847h25v5h-25zM395 846h20v7h-20zM397 843h16v13h-16zM398 842h14v15h-14zM416 819h6v26h-6zM407 830h25v5h-25zM409 829h20v7h-20zM411 826h16v13h-16zM412 825h14v15h-14zM430 805h6v26h-6zM421 816h25v5h-25zM423 815h20v7h-20zM425 812h16v13h-16zM426 811h14v15h-14zM444 787h6v26h-6zM435 798h25v5h-25zM437 797h20v7h-20zM439 794h16v13h-16zM440 793h14v15h-14zM457 771h6v26h-6zM448 782h25v5h-25zM450 781h20v7h-20zM452 778h16v13h-16zM453 777h14v15h-14zM471 752h6v26h-6zM462 763h25v5h-25zM464 762h20v7h-20zM466 759h16v13h-16zM467 758h14v15h-14zM485 735h6v26h-6zM476 746h25v5h-25zM478 745h20v7h-20zM480 742h16v13h-16zM481 741h14v15h-14zM499 716h6v26h-6zM490 727h25v5h-25zM492 726h20v7h-20zM494 723h16v13h-16zM495 722h14v15h-14zM513 699h6v26h-6zM504 710h25v5h-25zM506 709h20v7h-20zM508 706h16v13h-16zM509 705h14v15h-14zM527 676h6v26h-6zM518 687h25v5h-25zM520 686h20v7h-20zM522 683h16v13h-16zM523 682h14v15h-14zM540 652h6v26h-6zM531 663h25v5h-25zM533 662h20v7h-20zM535 659h16v13h-16zM536 658h14v15h-14zM554 633h6v26h-6zM545 644h25v5h-25zM547 643h20v7h-20zM549 640h16v13h-16zM550 639h14v15h-14zM568 614h6v26h-6zM559 625h25v5h-25zM561 624h20v7h-20zM563 621h16v13h-16zM564 620h14v15h-14zM582 595h6v26h-6zM573 606h25v5h-25zM575 605h20v7h-20zM577 602h16v13h-16zM578 601h14v15h-14zM596 573h6v26h-6zM587 584h25v5h-25zM589 583h20v7h-20zM591 580h16v13h-16zM592 579h14v15h-14zM610 551h6v26h-6zM601 562h25v5h-25zM603 561h20v7h-20zM605 558h16v13h-16zM606 557h14v15h-14zM623 529h6v26h-6zM614 540h25v5h-25zM616 539h20v7h-20zM618 536h16v13h-16zM619 535h14v15h-14zM637 505h6v26h-6zM628 516h25v5h-25zM630 515h20v7h-20zM632 512h16v13h-16zM633 511h14v15h-14zM651 485h6v26h-6zM642 496h25v5h-25zM644 495h20v7h-20zM646 492h16v13h-16zM647 491h14v15h-14zM665 464h6v26h-6zM656 475h25v5h-25zM658 474h20v7h-20zM660 471h16v13h-16zM661 470h14v15h-14zM679 441h6v26h-6zM670 452h25v5h-25zM672 451h20v7h-20zM674 448h16v13h-16zM675 447h14v15h-14zM693 418h6v26h-6zM684 429h25v5h-25zM686 428h20v7h-20zM688 425h16v13h-16zM689 424h14v15h-14zM706 403h6v26h-6zM697 414h25v5h-25zM699 413h20v7h-20zM701 410h16v13h-16zM702 409h14v15h-14zM720 388h6v26h-6zM711 399h25v5h-25zM713 398h20v7h-20zM715 395h16v13h-16zM716 394h14v15h-14zM734 371h6v26h-6zM725 382h25v5h-25zM727 381h20v7h-20zM729 378h16v13h-16zM730 377h14v15h-14zM748 354h6v26h-6zM739 365h25v5h-25zM741 364h20v7h-20zM743 361h16v13h-16zM744 360h14v15h-14zM762 344h6v26h-6zM753 355h25v5h-25zM755 354h20v7h-20zM757 351h16v13h-16zM758 350h14v15h-14zM776 337h6v26h-6zM767 348h25v5h-25zM769 347h20v7h-20zM771 344h16v13h-16zM772 343h14v15h-14zM790 331h6v26h-6zM781 342h25v5h-25zM783 341h20v7h-20zM785 338h16v13h-16zM786 337h14v15h-14zM803 325h6v26h-6zM794 336h25v5h-25zM796 335h20v7h-20zM798 332h16v13h-16zM799 331h14v15h-14zM817 319h6v26h-6zM808 330h25v5h-25zM810 329h20v7h-20zM812 326h16v13h-16zM813 325h14v15h-14zM831 317h6v26h-6zM822 328h25v5h-25zM824 327h20v7h-20zM826 324h16v13h-16zM827 323h14v15h-14zM845 317h6v26h-6zM836 328h25v5h-25zM838 327h20v7h-20zM840 324h16v13h-16zM841 323h14v15h-14zM859 319h6v26h-6zM850 330h25v5h-25zM852 329h20v7h-20zM854 326h16v13h-16zM855 325h14v15h-14zM873 328h6v26h-6zM864 339h25v5h-25zM866 338h20v7h-20zM868 335h16v13h-16zM869 334h14v15h-14zM886 336h6v26h-6zM877 347h25v5h-25zM879 346h20v7h-20zM881 343h16v13h-16zM882 342h14v15h-14zM900 346h6v26h-6zM891 357h25v5h-25zM893 356h20v7h-20zM895 353h16v13h-16zM896 352h14v15h-14zM914 354h6v26h-6zM905 365h25v5h-25zM907 364h20v7h-20zM909 361h16v13h-16zM910 360h14v15h-14zM928 362h6v26h-6zM919 373h25v5h-25zM921 372h20v7h-20zM923 369h16v13h-16zM924 368h14v15h-14zM942 376h6v26h-6zM933 387h25v5h-25zM935 386h20v7h-20zM937 383h16v13h-16zM938 382h14v15h-14zM956 390h6v26h-6zM947 401h25v5h-25zM949 400h20v7h-20zM951 397h16v13h-16zM952 396h14v15h-14zM969 407h6v26h-6zM960 418h25v5h-25zM962 417h20v7h-20zM964 414h16v13h-16zM965 413h14v15h-14zM983 429h6v26h-6zM974 440h25v5h-25zM976 439h20v7h-20zM978 436h16v13h-16zM979 435h14v15h-14zM997 443h6v26h-6zM988 454h25v5h-25zM990 453h20v7h-20zM992 450h16v13h-16zM993 449h14v15h-14zM1011 462h6v26h-6zM1002 473h25v5h-25zM1004 472h20v7h-20zM1006 469h16v13h-16zM1007 468h14v15h-14zM1025 487h6v26h-6zM1016 498h25v5h-25zM1018 497h20v7h-20zM1020 494h16v13h-16zM1021 493h14v15h-14zM1039 512h6v26h-6zM1030 523h25v5h-25zM1032 522h20v7h-20zM1034 519h16v13h-16zM1035 518h14v15h-14zM1052 539h6v26h-6zM1043 550h25v5h-25zM1045 549h20v7h-20zM1047 546h16v13h-16zM1048 545h14v15h-14zM1066 565h6v26h-6zM1057 576h25v5h-25zM1059 575h20v7h-20zM1061 572h16v13h-16zM1062 571h14v15h-14zM1080 586h6v26h-6zM1071 597h25v5h-25zM1073 596h20v7h-20zM1075 593h16v13h-16zM1076 592h14v15h-14zM1094 607h6v26h-6zM1085 618h25v5h-25zM1087 617h20v7h-20zM1089 614h16v13h-16zM1090 613h14v15h-14zM1108 627h6v26h-6zM1099 638h25v5h-25zM1101 637h20v7h-20zM1103 634h16v13h-16zM1104 633h14v15h-14zM1122 652h6v26h-6zM1113 663h25v5h-25zM1115 662h20v7h-20zM1117 659h16v13h-16zM1118 658h14v15h-14zM1136 681h6v26h-6zM1127 692h25v5h-25zM1129 691h20v7h-20zM1131 688h16v13h-16zM1132 687h14v15h-14zM1149 709h6v26h-6zM1140 720h25v5h-25zM1142 719h20v7h-20zM1144 716h16v13h-16zM1145 715h14v15h-14zM1163 728h6v26h-6zM1154 739h25v5h-25zM1156 738h20v7h-20zM1158 735h16v13h-16zM1159 734h14v15h-14zM1177 742h6v26h-6zM1168 753h25v5h-25zM1170 752h20v7h-20zM1172 749h16v13h-16zM1173 748h14v15h-14zM1191 754h6v26h-6zM1182 765h25v5h-25zM1184 764h20v7h-20zM1186 761h16v13h-16zM1187 760h14v15h-14zM1205 768h6v26h-6zM1196 779h25v5h-25zM1198 778h20v7h-20zM1200 775h16v13h-16zM1201 774h14v15h-14zM1219 784h6v26h-6zM1210 795h25v5h-25zM1212 794h20v7h-20zM1214 791h16v13h-16zM1215 790h14v15h-14zM1232 802h6v26h-6zM1223 813h25v5h-25zM1225 812h20v7h-20zM1227 809h16v13h-16zM1228 808h14v15h-14zM1246 819h6v26h-6zM1237 830h25v5h-25zM1239 829h20v7h-20zM1241 826h16v13h-16zM1242 825h14v15h-14zM1260 830h6v26h-6zM1251 841h25v5h-25zM1253 840h20v7h-20zM1255 837h16v13h-16zM1256 836h14v15h-14zM1274 842h6v26h-6zM1265 853h25v5h-25zM1267 852h20v7h-20zM1269 849h16v13h-16zM1270 848h14v15h-14zM1288 857h6v26h-6zM1279 868h25v5h-25zM1281 867h20v7h-20zM1283 864h16v13h-16zM1284 863h14v15h-14zM1302 871h6v26h-6zM1293 882h25v5h-25zM1295 881h20v7h-20zM1297 878h16v13h-16zM1298 877h14v15h-14zM1316 881h6v26h-6zM1307 892h25v5h-25zM1309 891h20v7h-20zM1311 888h16v13h-16zM1312 887h14v15h-14zM1330 889h6v26h-6zM1321 900h25v5h-25zM1323 899h20v7h-20zM1325 896h16v13h-16zM1326 895h14v15h-14zM1344 898h6v26h-6zM1335 909h25v5h-25zM1337 908h20v7h-20zM1339 905h16v13h-16zM1340 904h14v15h-14zM1358 909h6v26h-6zM1349 920h25v5h-25zM1351 919h20v7h-20zM1353 916h16v13h-16zM1354 915h14v15h-14zM1372 920h6v26h-6zM1363 931h25v5h-25zM1365 930h20v7h-20zM1367 927h16v13h-16zM1368 926h14v15h-14zM1386 931h6v26h-6zM1377 942h25v5h-25zM1379 941h20v7h-20zM1381 938h16v13h-16zM1382 937h14v15h-14zM1400 942h6v26h-6zM1391 953h25v5h-25zM1393 952h20v7h-20zM1395 949h16v13h-16zM1396 948h14v15h-14z" fill="#ff00ff"/>
</g>
<g shape-rendering="crispEdges">
<rect x="1076" y="136" width="107" height="6" fill="#00ff00"/>
<path d="M1126 126h6v26h-6zM1117 137h25v5h-25zM1119 136h20v7h-20zM1121 133h16v13h-16zM1122 132h14v15h-14z" fill="#00ff00"/>
<rect x="1076" y="209" width="50" height="6" fill="#0000ff"/>
<rect x="1161" y="209" width="22" height="6" fill="#0000ff"/>
<path d="M1126 199h6v26h-6zM1117 210h25v5h-25zM1119 209h20v7h-20zM1121 206h16v13h-16zM1122 205h14v15h-14z" fill="#0000ff"/>
<rect x="1076" y="283" width="100" height="6" fill="#00ffff"/>
<path d="M1126 273h6v26h-6zM1117 284h25v5h-25zM1119 283h20v7h-20zM1121 280h16v13h-16zM1122 279h14v15h-14z" fill="#00ffff"/>
<rect x="1076" y="355" width="5" height="6" fill="#ff00ff"/>
<rect x="1101" y="355" width="5" height="6" fill="#ff00ff"/>
<rect x="1151" y="355" width="5" height="6" fill="#ff00ff"/>
<rect x="1176" y="355" width="5" height="6" fill="#ff00ff"/>
<path d="M1126 345h6v26h-6zM1117 356h25v5h-25zM1119 355h20v7h-20zM1121 352h16v13h-16zM1122 351h14v15h-14z" fill="#ff00ff"/>
</g>
<g font-family="'Liberation Serif', 'Times New Roman', serif" fill="#000" stroke="#000" stroke-width="0.3" text-rendering="geometricPrecision">
<text x="1199.5" y="162.7" font-size="60" font-style="italic">n</text>
<text x="1251" y="162.7" font-size="60" textLength="35" lengthAdjust="spacingAndGlyphs">=</text>
<text x="1300" y="162.7" font-size="60">25</text>
<text x="1199.5" y="236.4" font-size="60" font-style="italic">n</text>
<text x="1251" y="236.4" font-size="60" textLength="35" lengthAdjust="spacingAndGlyphs">=</text>
<text x="1300" y="236.4" font-size="60">50</text>
<text x="1199.5" y="310.7" font-size="60" font-style="italic">n</text>
<text x="1251" y="310.7" font-size="60" textLength="35" lengthAdjust="spacingAndGlyphs">=</text>
<text x="1300" y="310.7" font-size="60">75</text>
<text x="1199.5" y="385.8" font-size="60" font-style="italic">n</text>
<text x="1251" y="385.8" font-size="60" textLength="35" lengthAdjust="spacingAndGlyphs">=</text>
<text x="1304" y="385.8" font-size="60">100</text>
<text x="263.9" y="1026.3" font-size="68" text-anchor="middle">0</text>
<text x="556.9" y="1026.3" font-size="68" text-anchor="middle">0.1</text>
<text x="849.1" y="1026.3" font-size="68" text-anchor="middle">0.2</text>
<text x="1123" y="1026.3" font-size="68" text-anchor="middle">0.3</text>
<text x="1415.5" y="1026.3" font-size="68" text-anchor="middle">0.4</text>
<text x="226.3" y="107.2" font-size="68" text-anchor="end">10</text>
<text x="233" y="326.2" font-size="68" text-anchor="end">7.5</text>
<text x="234" y="542.2" font-size="68" text-anchor="end">5.0</text>
<text x="233.2" y="761.7" font-size="68" text-anchor="end">2.5</text>
<text x="208.8" y="981.8" font-size="68" text-anchor="end">0</text>
<text x="856.7" y="1092.7" font-size="67.5" text-anchor="middle">Time /ms</text>
<text transform="translate(123.4,883.3) rotate(-90) scale(1,1.03)" font-size="68">Mesh stiffness <tspan dx="-3.2">/</tspan><tspan dx="-1">×</tspan><tspan dx="-3">1</tspan><tspan dx="0">0</tspan><tspan font-size="55" dy="-34.2">8</tspan><tspan dy="34.2" dx="8.5"> N</tspan><tspan dx="2">·</tspan><tspan dx="0.5">m</tspan><tspan font-size="55" dy="-34.2" dx="-5">-1</tspan></text>
</g>
</svg>
</body></html>
